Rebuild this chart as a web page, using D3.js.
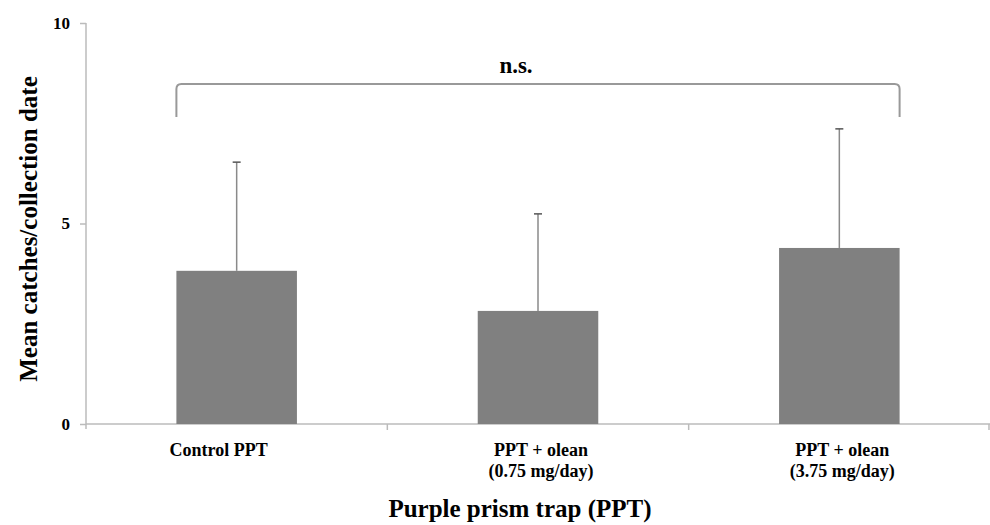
<!DOCTYPE html>
<html>
<head>
<meta charset="utf-8">
<script src="https://cdn.jsdelivr.net/npm/d3@7"></script>
<style>
  body { margin: 0; background: #fff; }
  text { font-family: "Liberation Serif", "Times New Roman", serif; font-weight: bold; fill: #000; }
</style>
</head>
<body>
<div id="chart"></div>
<script>
const w = 990;
const h = 525;
const margin = {top: 23, right: 0, bottom: 101, left: 86};

// data
const categories = ["Control PPT", "PPT + olean\n(0.75 mg/day)", "PPT + olean\n(3.75 mg/day)"];
const means = [3.82, 2.82, 4.39];
const errors = [2.71, 2.42, 2.97];
const yTicks = [0, 5, 10];
const sigLabel = "n.s.";

const svg = d3.select("#chart")
  .append("svg")
  .attr("width", w)
  .attr("height", h);

const x = d3.scaleBand()
  .domain(categories)
  .range([margin.left, w - margin.right])
  .paddingInner(0.6)
  .paddingOuter(0.3);

const y = d3.scaleLinear()
  .domain([0, 10])
  .range([h - margin.bottom, margin.top]);

// y axis
const yAxis = svg.append("g")
  .attr("transform", `translate(${margin.left},0)`)
  .call(d3.axisLeft(y).tickValues(yTicks).tickSize(6).tickPadding(10));
yAxis.select(".domain").attr("stroke", "#bbb").attr("stroke-width", 1.5)
  .attr("d", `M0,${y(10)}V${y(0) + 5}`);
yAxis.selectAll(".tick line").attr("stroke", "#bbb").attr("stroke-width", 1.5);
yAxis.selectAll(".tick text").style("font-size", "17px").style("font-family", "Liberation Serif").style("font-weight", "bold");

// x axis line with boundary ticks
const xBase = y(0);
const bounds = categories.map(c => x(c) + x.bandwidth() + x.step() * x.paddingInner() / 2);
bounds[bounds.length - 1] = w - margin.right - 1;
svg.append("line")
  .attr("x1", margin.left).attr("x2", w - margin.right)
  .attr("y1", xBase).attr("y2", xBase)
  .attr("stroke", "#bbb").attr("stroke-width", 1.5);
svg.selectAll(".xtick")
  .data(bounds)
  .enter().append("line")
  .attr("x1", d => d).attr("x2", d => d)
  .attr("y1", xBase).attr("y2", xBase + 6)
  .attr("stroke", "#bbb").attr("stroke-width", 1.5);

// bars
svg.selectAll(".bar")
  .data(categories)
  .enter().append("rect")
  .attr("x", d => x(d))
  .attr("y", (d, i) => y(means[i]))
  .attr("width", x.bandwidth())
  .attr("height", (d, i) => y(0) - y(means[i]))
  .attr("fill", "#808080");

// error bars (upper only)
const eb = svg.selectAll(".err")
  .data(categories)
  .enter().append("g")
  .attr("transform", d => `translate(${x(d) + x.bandwidth() / 2},0)`);
eb.append("line")
  .attr("y1", (d, i) => y(means[i]))
  .attr("y2", (d, i) => y(means[i] + errors[i]))
  .attr("stroke", "#8a8a8a").attr("stroke-width", 1.5);
eb.append("line")
  .attr("x1", -4).attr("x2", 4)
  .attr("y1", (d, i) => y(means[i] + errors[i]))
  .attr("y2", (d, i) => y(means[i] + errors[i]))
  .attr("stroke", "#555").attr("stroke-width", 1.5);

// category labels (single-line label sits a bit left in the original)
svg.selectAll(".cat")
  .data(categories)
  .enter().append("text")
  .attr("text-anchor", "middle")
  .attr("x", d => x(d) + x.bandwidth() / 2 + (d.includes("\n") ? 3 : -18))
  .attr("y", 456)
  .style("font-size", "18px")
  .selectAll("tspan")
  .data(d => d.split("\n"))
  .enter().append("tspan")
  .attr("x", function () { return this.parentNode.getAttribute("x"); })
  .attr("dy", (d, i) => i === 0 ? 0 : 21)
  .text(d => d);

// significance bracket
const bx1 = x(categories[0]);
const bx2 = x(categories[2]) + x.bandwidth();
const byTop = 84, byBot = 117, r = 5;
svg.append("path")
  .attr("d", `M${bx1},${byBot}V${byTop + r}Q${bx1},${byTop} ${bx1 + r},${byTop}H${bx2 - r}Q${bx2},${byTop} ${bx2},${byTop + r}V${byBot}`)
  .attr("fill", "none").attr("stroke", "#999").attr("stroke-width", 2);
svg.append("text")
  .attr("x", 516).attr("y", 73)
  .attr("text-anchor", "middle")
  .style("font-size", "23px")
  .text(sigLabel);

// axis titles
svg.append("text")
  .attr("transform", `translate(37,229) rotate(-90)`)
  .attr("text-anchor", "middle")
  .style("font-size", "25px")
  .text("Mean catches/collection date");
svg.append("text")
  .attr("x", 520).attr("y", 517)
  .attr("text-anchor", "middle")
  .style("font-size", "25px")
  .text("Purple prism trap (PPT)");
</script>
</body>
</html>
